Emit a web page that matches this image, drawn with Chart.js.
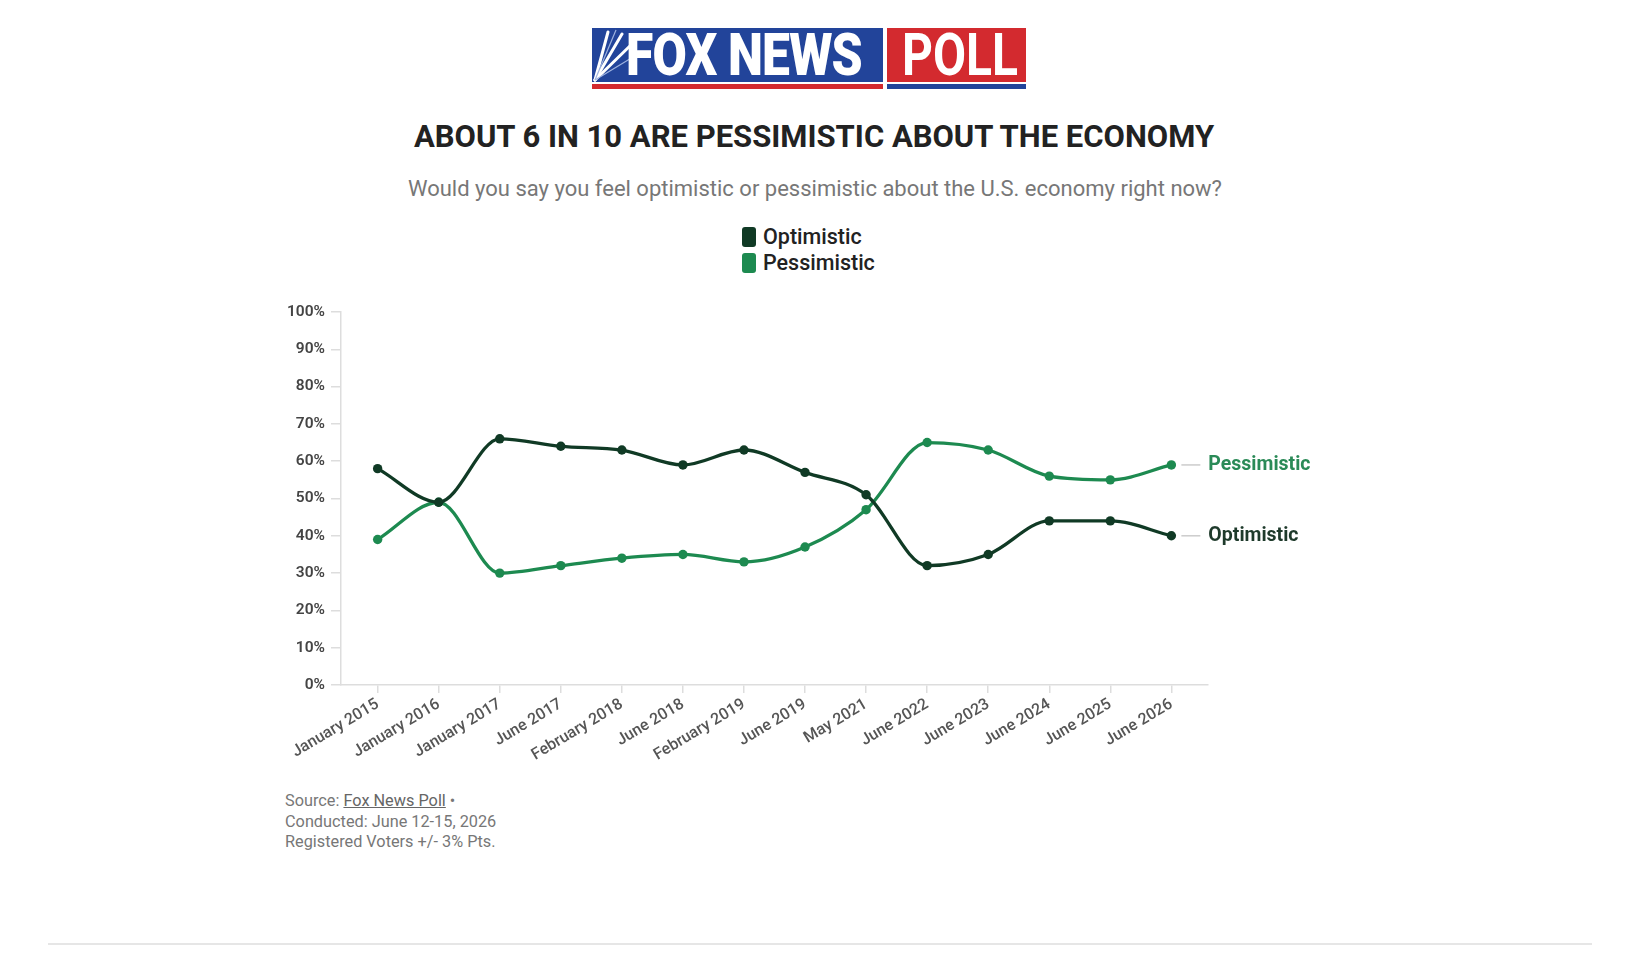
<!DOCTYPE html>
<html><head><meta charset="utf-8">
<script src="https://cdn.jsdelivr.net/npm/chart.js@4.4.1/dist/chart.umd.min.js"></script>
<style>
html,body{margin:0;padding:0;background:#fff;width:1640px;height:960px;overflow:hidden;font-family:Roboto,"Noto Sans",sans-serif;}
.abs{position:absolute;}
#logoBlue{left:592px;top:28px;width:291px;height:54px;background:#22449a;overflow:hidden;}
#logoRed{left:887px;top:28px;width:139px;height:54px;background:#d32a2f;overflow:hidden;}
#stripeRed{left:592px;top:84px;width:291px;height:5px;background:#d32a2f;}
#stripeBlue{left:887px;top:84px;width:139px;height:5px;background:#22449a;}
.logotxt{position:absolute;color:#fff;font-size:60px;line-height:54px;white-space:nowrap;transform-origin:left center;}
#title{left:0;width:1628px;top:121px;text-align:center;font-size:31px;line-height:31px;font-weight:700;color:#222;}
#subtitle{left:0;width:1630px;top:178px;text-align:center;font-size:22px;line-height:22px;color:#777;}
.lg{left:742px;height:20px;font-size:21.5px;line-height:20px;font-weight:500;color:#222;white-space:nowrap;}
.lg .box{display:inline-block;width:14px;height:20px;border-radius:3px;vertical-align:top;margin-right:7px;}
#chartWrap{left:240px;top:290px;width:1100px;height:490px;}
.ft{left:285px;font-size:16.3px;line-height:16px;color:#777;white-space:nowrap;}
#rule{left:48px;top:943px;width:1544px;height:2px;background:#e6e6e6;}
</style></head><body>
<div id="logoBlue" class="abs">
  <svg class="abs" style="left:0;top:0" width="50" height="54" viewBox="0 0 50 54">
    <g stroke="#fff" stroke-width="3" fill="none" stroke-linecap="round">
      <line x1="3" y1="52" x2="16" y2="4"/>
      <line x1="3" y1="52" x2="30" y2="6"/>
      <line x1="3" y1="52" x2="42" y2="14"/>
    </g>
    <g stroke="#9fb3e0" stroke-width="1.2" fill="none">
      <line x1="3" y1="52" x2="24" y2="2"/>
      <line x1="3" y1="52" x2="46" y2="26"/>
    </g>
  </svg>
  <div class="logotxt" style="left:34px;top:0;font-weight:900;transform:scaleX(0.83);letter-spacing:-1px;">FOX NEWS</div>
</div>
<div id="logoRed" class="abs"><div class="logotxt" style="left:15px;top:0;font-weight:700;transform:scaleX(0.8);">POLL</div></div>
<div id="stripeRed" class="abs"></div>
<div id="stripeBlue" class="abs"></div>
<div id="title" class="abs">ABOUT 6 IN 10 ARE PESSIMISTIC ABOUT THE ECONOMY</div>
<div id="subtitle" class="abs">Would you say you feel optimistic or pessimistic about the U.S. economy right now?</div>
<div class="abs lg" style="top:227px;"><span class="box" style="background:#103a25"></span>Optimistic</div>
<div class="abs lg" style="top:253px;"><span class="box" style="background:#1d8a50"></span>Pessimistic</div>
<div id="chartWrap" class="abs"><canvas id="c" width="1100" height="490"></canvas></div>
<div class="abs ft" style="top:793px;">Source: <span style="text-decoration:underline;color:#666">Fox News Poll</span> •</div>
<div class="abs ft" style="top:814px;">Conducted: June 12-15, 2026</div>
<div class="abs ft" style="top:834px;">Registered Voters +/- 3% Pts.</div>
<div id="rule" class="abs"></div>
<script>
const categories = ['January 2015','January 2016','January 2017','June 2017','February 2018','June 2018','February 2019','June 2019','May 2021','June 2022','June 2023','June 2024','June 2025','June 2026'];
const optimistic = [58,49,66,64,63,59,63,57,51,32,35,44,44,40];
const pessimistic = [39,49,30,32,34,35,33,37,47,65,63,56,55,59];
const seriesNames = ['Optimistic','Pessimistic'];
const seriesColors = ['#103a25','#1d8a50'];
const labelColors = ['#1e3a2b','#2a8a57'];

const endLabels = {
  id:'endLabels',
  afterDatasetsDraw(chart){
    const ctx = chart.ctx;
    chart.data.datasets.forEach((ds,i)=>{
      const meta = chart.getDatasetMeta(i);
      const pt = meta.data[meta.data.length-1];
      if(!pt) return;
      ctx.save();
      ctx.strokeStyle = '#cccccc';
      ctx.lineWidth = 1.5;
      ctx.beginPath();
      ctx.moveTo(pt.x+10, pt.y);
      ctx.lineTo(pt.x+29, pt.y);
      ctx.stroke();
      ctx.fillStyle = labelColors[i];
      ctx.font = '700 19.5px Roboto';
      ctx.textBaseline = 'middle';
      ctx.textAlign = 'left';
      ctx.fillText(ds.label, pt.x+37, pt.y);
      ctx.restore();
    });
  }
};

const mk = (arr)=>arr.map((v,i)=>({x:i,y:v}));
new Chart(document.getElementById('c'),{
  type:'line',
  data:{
    datasets:[
      {label:seriesNames[0], data:mk(optimistic), borderColor:seriesColors[0], backgroundColor:seriesColors[0], pointBackgroundColor:seriesColors[0], pointBorderColor:seriesColors[0]},
      {label:seriesNames[1], data:mk(pessimistic), borderColor:seriesColors[1], backgroundColor:seriesColors[1], pointBackgroundColor:seriesColors[1], pointBorderColor:seriesColors[1]}
    ]
  },
  options:{
    responsive:false,
    animation:false,
    layout:{padding:{left:0,top:22,right:132,bottom:5}},
    elements:{
      line:{borderWidth:3.3, cubicInterpolationMode:'monotone'},
      point:{radius:4.7, borderWidth:0}
    },
    plugins:{legend:{display:false}, tooltip:{enabled:false}},
    scales:{
      x:{
        type:'linear', min:-0.6, max:13.6,
        afterFit(s){ s.height = 90; },
        border:{color:'#dddddd', width:1.5},
        grid:{display:true, drawOnChartArea:false, drawTicks:true, tickLength:8, tickColor:'#dddddd', lineWidth:1.5},
        ticks:{stepSize:1, includeBounds:false, autoSkip:false, maxRotation:31, minRotation:31, padding:2,
          color:'#555', font:{family:'Roboto', size:16, weight:'500'},
          callback:(v)=>categories[v] ?? ''}
      },
      y:{
        min:0, max:100,
        afterFit(s){ s.width = 101; },
        border:{color:'#dddddd', width:1.5},
        grid:{display:true, drawOnChartArea:false, drawTicks:true, tickLength:10, tickColor:'#dddddd', lineWidth:1.5},
        ticks:{stepSize:10, padding:6, color:'#444', font:{family:'Roboto', size:15.5, weight:'600'},
          callback:(v)=>v+'%'}
      }
    }
  },
  plugins:[endLabels]
});
</script>
</body></html>
